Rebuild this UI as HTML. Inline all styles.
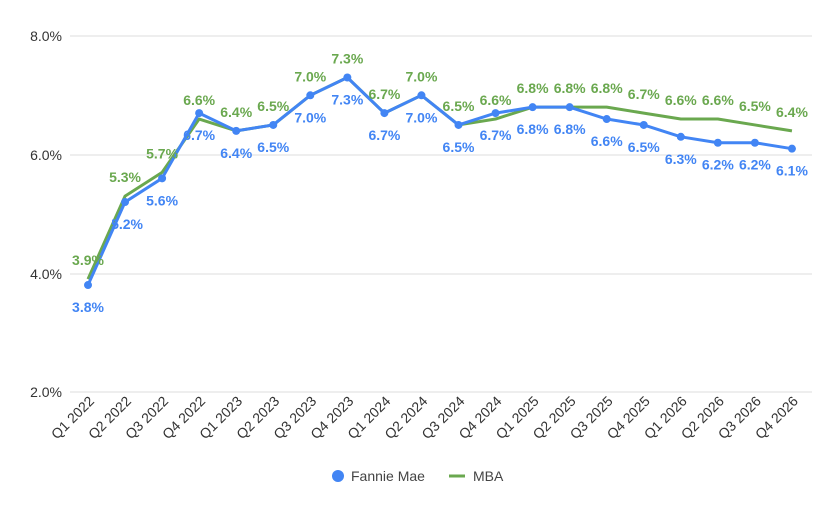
<!DOCTYPE html>
<html><head><meta charset="utf-8"><style>
body{margin:0;background:#fff;}
svg text{font-family:"Liberation Sans",Arial,sans-serif;}
</style></head><body>
<svg width="837" height="512" xmlns="http://www.w3.org/2000/svg">
<g stroke="#dcdcdc" stroke-width="1">
<line x1="70" x2="812" y1="36" y2="36"/>
<line x1="70" x2="812" y1="155" y2="155"/>
<line x1="70" x2="812" y1="274" y2="274"/>
<line x1="70" x2="812" y1="392" y2="392"/>
</g>
<g font-size="14" fill="#333" text-anchor="end">
<text x="62" y="41">8.0%</text><text x="62" y="160">6.0%</text><text x="62" y="279">4.0%</text><text x="62" y="397">2.0%</text>
</g>
<g id="c"></g>
<g font-size="14" fill="#333" text-anchor="end" id="xl"></g>
<g>
<circle cx="338" cy="476" r="6" fill="#4285f4"/>
<text x="351" y="481" font-size="14" fill="#444">Fannie Mae</text>
<line x1="449" x2="465" y1="476" y2="476" stroke="#6aa84f" stroke-width="3"/>
<text x="473" y="481" font-size="14" fill="#444">MBA</text>
</g>
</svg>
<script>
var F=[3.8,5.2,5.6,6.7,6.4,6.5,7.0,7.3,6.7,7.0,6.5,6.7,6.8,6.8,6.6,6.5,6.3,6.2,6.2,6.1];
var M=[3.9,5.3,5.7,6.6,6.4,6.5,7.0,7.3,6.7,7.0,6.5,6.6,6.8,6.8,6.8,6.7,6.6,6.6,6.5,6.4];
function X(i){return 88+i*37.05;}function Y(v){return 36+(8-v)*59.3;}
var ns="http://www.w3.org/2000/svg",c=document.getElementById('c'),xl=document.getElementById('xl');
function el(t,a,p,txt){var e=document.createElementNS(ns,t);for(var k in a)e.setAttribute(k,a[k]);if(txt)e.textContent=txt;p.appendChild(e);return e;}
el('polyline',{points:M.map(function(v,i){return X(i)+','+Y(v)}).join(' '),fill:'none',stroke:'#6aa84f','stroke-width':3,'stroke-linejoin':'round'},c);
el('polyline',{points:F.map(function(v,i){return X(i)+','+Y(v)}).join(' '),fill:'none',stroke:'#4285f4','stroke-width':3,'stroke-linejoin':'round'},c);
var q=['Q1','Q2','Q3','Q4'];
F.forEach(function(v,i){el('circle',{cx:X(i),cy:Y(v),r:4,fill:'#4285f4'},c);});
F.forEach(function(v,i){el('text',{x:X(i)+(i==1?2:0),y:Y(v)+27,'font-size':14,'font-weight':'bold',fill:'#4285f4','text-anchor':'middle'},c,v.toFixed(1)+'%');});
M.forEach(function(v,i){el('text',{x:X(i),y:Y(v)-14,'font-size':14,'font-weight':'bold',fill:'#6aa84f','text-anchor':'middle'},c,v.toFixed(1)+'%');});
for(var i=0;i<20;i++){var x=X(i)+7,y=402;el('text',{x:x,y:y,transform:'rotate(-45 '+x+' '+y+')'},xl,q[i%4]+' '+(2022+Math.floor(i/4)));}
</script>
</body></html>
